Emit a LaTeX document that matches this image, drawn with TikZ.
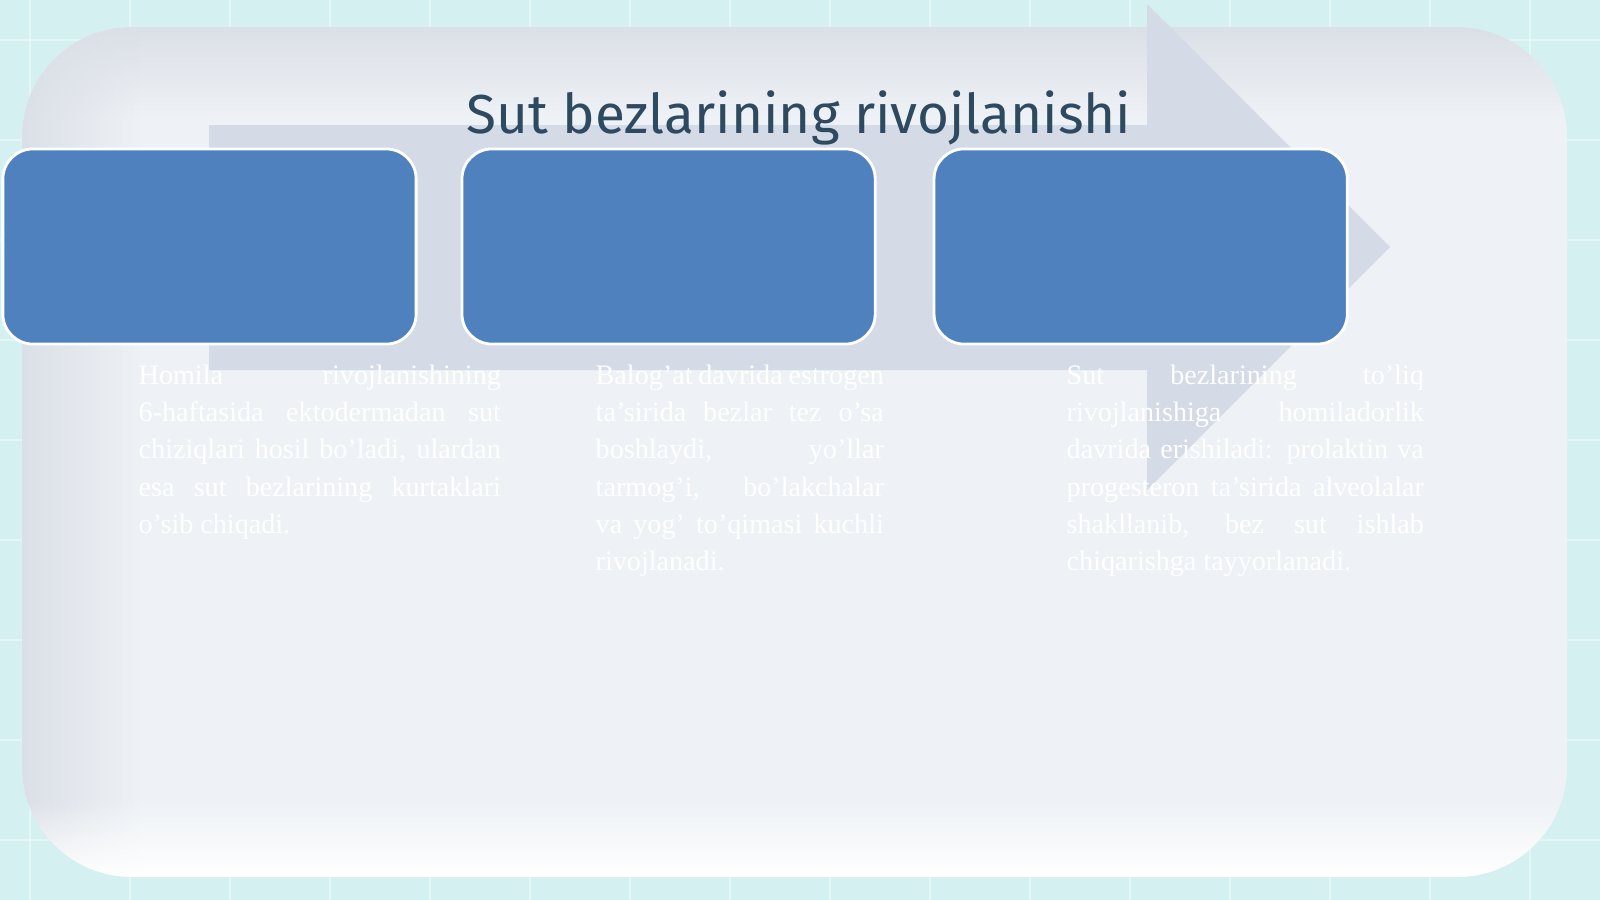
\documentclass[tikz,border=0pt]{standalone}
\usepackage{fontspec}
\setmainfont{Liberation Serif}
\newfontfamily\titlefont{Fira Sans}
\usetikzlibrary{positioning,fadings}
\definecolor{bgcyan}{HTML}{D4F0F1}
\definecolor{gridline}{HTML}{E2F6F6}
\definecolor{panel}{HTML}{EEF2F6}
\definecolor{panelshade}{HTML}{DBDFE7}
\definecolor{arrowgrey}{HTML}{D4DBE7}
\definecolor{boxblue}{HTML}{4F81BE}
\definecolor{titleblue}{HTML}{2E4A60}
\hyphenpenalty=10000
\exhyphenpenalty=10000

\begin{document}
\begin{tikzpicture}[x=0.01cm,y=-0.01cm,
    stage/.style={draw=white, line width=0.8pt, fill=boxblue, rounded corners=0.3cm,
      minimum width=4.13cm, minimum height=1.95cm, inner sep=0pt},
    blurb/.style={anchor=north west, text=white, inner sep=0pt, align=justify,
      font=\fontsize{8}{10.6}\selectfont}]
  \useasboundingbox (0,0) rectangle (1600,900);
  % background and grid
  \fill[bgcyan] (0,0) rectangle (1600,900);
  \foreach \gx in {30,130,...,1530}
    \draw[gridline, line width=0.5pt] (\gx,0) -- (\gx,900);
  \foreach \gy in {40,140,...,840}
    \draw[gridline, line width=0.5pt] (0,\gy) -- (1600,\gy);
  % panel
  \fill[panel, rounded corners=1.1cm] (22,27) rectangle (1567,877);
  \begin{scope}
    \clip[rounded corners=1.1cm] (22,27) rectangle (1567,877);
    \fill[panelshade, path fading=south] (22,27) rectangle (1567,115);
    \fill[panelshade, path fading=east] (22,27) rectangle (140,877);
    \fill[white, path fading=north] (22,800) rectangle (1567,877);
  \end{scope}
  % big arrow
  \fill[arrowgrey] (209,125) -- (1147,125) -- (1147,4) -- (1390,247)
    -- (1147,490) -- (1147,370) -- (209,370) -- cycle;
  % title
  \node[font=\titlefont\fontsize{15.6}{18}\selectfont, text=titleblue, anchor=base]
    (title) at (799,133) {Sut bezlarining rivojlanishi};
  % stages
  \node[stage] (boxA) at (209.5,246.5) {};
  \node[stage, right=0.43cm of boxA] (boxB) {};
  \node[stage, right=0.56cm of boxB] (boxC) {};
  % texts under the stages
  \node[blurb, text width=3.62cm] (txtA) at (138,364)
    {Homila rivojlanishining 6-haftasida ektodermadan sut chiziqlari hosil bo'ladi, ulardan esa sut bezlarining kurtaklari o'sib chiqadi.};
  \node[blurb, text width=2.88cm] (txtB) at (595,364)
    {Balog'at davrida estrogen ta'sirida bezlar tez o'sa boshlaydi, yo'llar tarmog'i, bo'lakchalar va yog' to'qimasi kuchli rivojlanadi.};
  \node[blurb, text width=3.57cm] (txtC) at (1066,364)
    {Sut bezlarining to'liq rivojlanishiga homiladorlik davrida erishiladi: prolaktin va progesteron ta'sirida alveolalar shakllanib, bez sut ishlab chiqarishga tayyorlanadi.};
\end{tikzpicture}
\end{document}
